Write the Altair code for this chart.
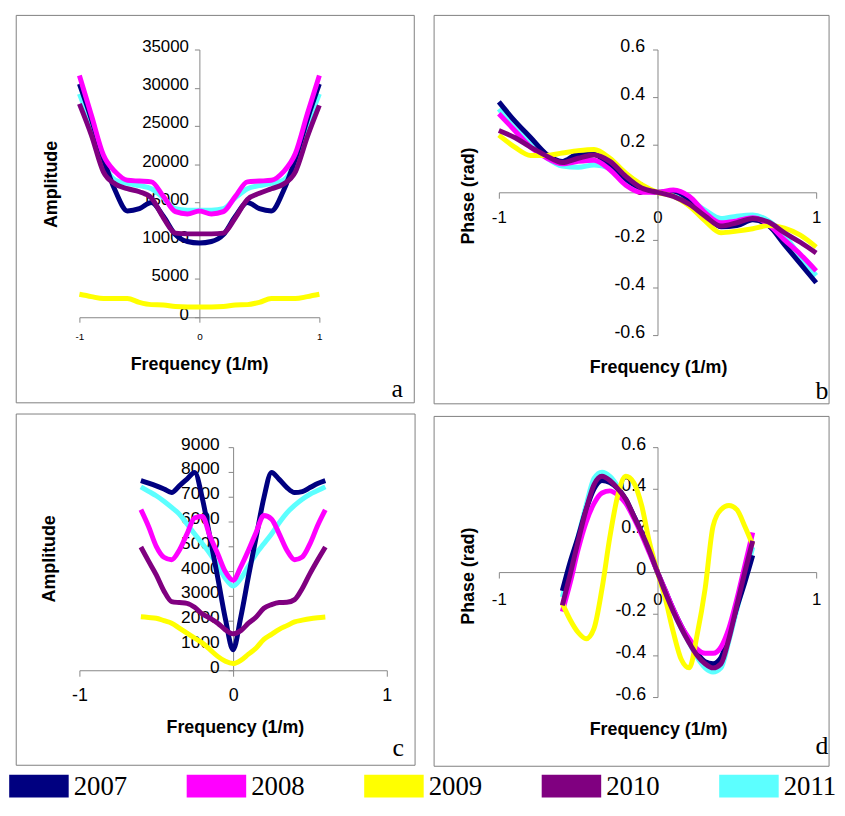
import altair as alt
import pandas as pd

YEARS = ["2007", "2008", "2009", "2010", "2011"]
COLORS = ["#000080", "#FF00FF", "#FFFF00", "#800080", "#5CFFFF"]
DRAW_ORDER = ["2011", "2007", "2008", "2009", "2010"]

# ---------- panel a : amplitude, wide band ----------
A_X = [-1.0, -0.9, -0.8, -0.7, -0.6, -0.5, -0.4, -0.3, -0.2, -0.1, 0.0,
       0.1, 0.2, 0.3, 0.4, 0.5, 0.6, 0.7, 0.8, 0.9, 1.0]
A_2007 = [30500, 25900, 20700, 16500, 13900, 14200, 15000, 13200, 10800, 9900, 9700,
          9900, 10800, 13200, 15000, 14200, 13900, 16500, 20700, 25900, 30500]
A_2008 = [31600, 26400, 21200, 19000, 17900, 17800, 17700, 15800, 13800, 13500, 13900,
          13500, 13800, 15800, 17700, 17800, 17900, 19000, 21400, 26600, 31600]
A_2009 = [3000, 2700, 2450, 2450, 2450, 1950, 1650, 1600, 1400, 1350, 1350,
          1350, 1400, 1600, 1650, 1950, 2450, 2450, 2450, 2700, 3000]
A_2010 = [27900, 23800, 19000, 17400, 16800, 16400, 15600, 13000, 11000, 10900, 10900,
          10900, 11000, 13000, 15400, 16200, 16800, 17400, 19000, 23600, 27700]
A_2011 = [29200, 25000, 20300, 17900, 17500, 17200, 16800, 15600, 14200, 14000, 14000,
          14000, 14200, 15600, 16800, 17200, 17500, 17900, 20300, 25000, 29200]

# ---------- panel b : phase, wide band ----------
B_X = [-1.0, -0.9, -0.8, -0.7, -0.6, -0.5, -0.4, -0.3, -0.2, -0.1, 0.0,
       0.1, 0.2, 0.3, 0.4, 0.5, 0.6, 0.7, 0.8, 0.9, 1.0]
B_2007 = [0.38, 0.30, 0.23, 0.16, 0.13, 0.16, 0.16, 0.11, 0.055, 0.015, 0.0,
          0.005, -0.03, -0.09, -0.145, -0.14, -0.115, -0.14, -0.22, -0.30, -0.38]
B_2008 = [0.33, 0.26, 0.19, 0.145, 0.12, 0.13, 0.135, 0.095, 0.03, 0.0, 0.0,
          0.01, -0.017, -0.085, -0.128, -0.12, -0.107, -0.135, -0.20, -0.26, -0.33]
B_2009 = [0.24, 0.19, 0.155, 0.155, 0.165, 0.175, 0.18, 0.143, 0.08, 0.032, 0.0,
          -0.017, -0.058, -0.12, -0.17, -0.163, -0.153, -0.14, -0.15, -0.18, -0.23]
B_2010 = [0.26, 0.23, 0.19, 0.153, 0.125, 0.143, 0.157, 0.13, 0.067, 0.018, 0.0,
          -0.017, -0.05, -0.10, -0.142, -0.128, -0.11, -0.125, -0.17, -0.21, -0.255]
B_2011 = [0.35, 0.27, 0.205, 0.145, 0.11, 0.105, 0.115, 0.10, 0.045, 0.012, 0.0,
          -0.01, -0.03, -0.075, -0.11, -0.10, -0.095, -0.12, -0.18, -0.27, -0.35]

# ---------- panel c : amplitude, narrow band ----------
C_X = [-0.6, -0.55, -0.5, -0.45, -0.4, -0.35, -0.3, -0.25, -0.2, -0.15, -0.1, -0.05, 0.0,
       0.05, 0.1, 0.15, 0.2, 0.25, 0.3, 0.35, 0.4, 0.45, 0.5, 0.55, 0.6]
C_2007 = [7650, 7550, 7440, 7310, 7170, 7440, 7710, 7980, 6930, 5340, 3740, 2070, 830,
          2140, 3790, 5370, 6950, 7980, 7700, 7370, 7170, 7210, 7370, 7530, 7650]
C_2008 = [6480, 5800, 5000, 4560, 4460, 4840, 5500, 6150, 6200, 5400, 4700, 3970, 3630,
          4170, 4840, 5570, 6240, 6100, 5500, 4840, 4460, 4570, 5100, 5840, 6470]
C_2009 = [2160, 2130, 2100, 2000, 1900, 1700, 1500, 1300, 1100, 830, 560, 360, 270,
          400, 650, 900, 1250, 1450, 1650, 1800, 1950, 2020, 2080, 2120, 2150]
C_2010 = [4970, 4400, 3850, 3200, 2770, 2730, 2700, 2540, 2270, 2100, 1900, 1630, 1470,
          1600, 1900, 2150, 2500, 2650, 2730, 2740, 2850, 3300, 3900, 4450, 4970]
C_2011 = [7400, 7220, 7040, 6820, 6570, 6300, 5900, 5500, 5100, 4700, 4230, 3700, 3400,
          3700, 4200, 4700, 5100, 5500, 5950, 6350, 6650, 6900, 7100, 7250, 7400]

# ---------- panel d : phase, narrow band ----------
D_X = [-0.6, -0.55, -0.5, -0.45, -0.4, -0.35, -0.3, -0.25, -0.2, -0.15, -0.1, -0.05, 0.0,
       0.05, 0.1, 0.15, 0.2, 0.25, 0.3, 0.35, 0.4, 0.45, 0.5, 0.55, 0.6]
D_2007 = [-0.09, 0.05, 0.17, 0.30, 0.40, 0.44, 0.43, 0.40, 0.35, 0.27, 0.19, 0.10, 0.0,
          -0.09, -0.18, -0.26, -0.33, -0.39, -0.43, -0.44, -0.41, -0.30, -0.17, -0.05, 0.08]
D_2008 = [-0.19, -0.05, 0.11, 0.24, 0.33, 0.38, 0.39, 0.37, 0.33, 0.26, 0.18, 0.09, 0.0,
          -0.09, -0.18, -0.26, -0.32, -0.37, -0.39, -0.39, -0.36, -0.27, -0.13, 0.03, 0.19]
D_2009 = [-0.15, -0.23, -0.29, -0.32, -0.27, -0.08, 0.17, 0.37, 0.46, 0.43, 0.32, 0.14, 0.0,
          -0.13, -0.29, -0.42, -0.46, -0.30, -0.08, 0.22, 0.30, 0.32, 0.30, 0.22, 0.13]
D_2010 = [-0.16, -0.01, 0.15, 0.30, 0.42, 0.46, 0.44, 0.40, 0.35, 0.27, 0.19, 0.10, 0.0,
          -0.10, -0.19, -0.27, -0.34, -0.40, -0.44, -0.46, -0.44, -0.32, -0.16, 0.0, 0.15]
D_2011 = [-0.12, 0.02, 0.17, 0.32, 0.45, 0.48, 0.46, 0.41, 0.34, 0.27, 0.19, 0.10, 0.0,
          -0.10, -0.19, -0.27, -0.34, -0.41, -0.46, -0.48, -0.46, -0.33, -0.18, -0.03, 0.12]

F_TICKS = [-1, 0, 1]
A_TICKS = [0, 5000, 10000, 15000, 20000, 25000, 30000, 35000]
C_TICKS = [0, 1000, 2000, 3000, 4000, 5000, 6000, 7000, 8000, 9000]
P_TICKS = [-0.6, -0.4, -0.2, 0.0, 0.2, 0.4, 0.6]

GRAY = "#878787"
FONT = "Liberation Sans"
SERIF = "Liberation Serif"

SCALE = alt.Scale(domain=YEARS, range=COLORS)
LEGEND = alt.Legend(
    title=None, orient="none", legendX=-55.8, legendY=728.3,
    direction="horizontal", columns=5, padding=0, symbolOffset=0,
    symbolType="M-2,-0.8H2V0.733H-2Z", symbolSize=900, symbolStrokeWidth=0, symbolOpacity=1,
    labelFont=SERIF, labelFontSize=27, labelColor="black", labelOffset=20,
    labelBaseline="middle", columnPadding=60, rowPadding=0,
)
COLOR_LINES = alt.Color("year:N", scale=SCALE, legend=None)
COLOR_KEY = alt.Color("year:N", scale=SCALE, legend=LEGEND)

X_EXPR = "(datum.value < 0 ? '-' : '') + format(abs(datum.value), 'd')"
P_EXPR = "datum.value == 0 ? '0' : (datum.value < 0 ? '-' : '') + format(abs(datum.value), '.1f')"


def x_axis(offset, size, tick, pad, tx, ty):
    return alt.Axis(
        orient="bottom", offset=offset, values=F_TICKS, grid=False,
        domainColor=GRAY, tickColor=GRAY, domainWidth=1, tickWidth=1, tickSize=tick,
        labelFont=FONT, labelFontSize=size, labelColor="black", labelPadding=pad,
        labelFlush=False, labelOverlap=False, labelExpr=X_EXPR,
        title="Frequency (1/m)", titleFont=FONT, titleFontSize=18, titleFontWeight="bold",
        titleColor="black", titleX=tx, titleY=ty, titleAlign="center",
        titleBaseline="middle", titleAngle=0)


def y_axis(offset, ticks, size, pad, title, tx, ty, expr):
    return alt.Axis(
        orient="left", offset=offset, values=ticks, grid=False,
        domainColor=GRAY, tickColor=GRAY, domainWidth=1, tickWidth=1, tickSize=5,
        labelFont=FONT, labelFontSize=size, labelColor="black", labelPadding=pad,
        labelOffset=-3, labelFlush=False, labelOverlap=False, labelExpr=expr,
        title=title, titleFont=FONT, titleFontSize=18, titleFontWeight="bold",
        titleColor="black", titleX=tx, titleY=ty, titleAlign="center",
        titleBaseline="middle", titleAngle=270)


def panel(xs, series, xdom, ydom, w, h, xax, yax, box, letter, with_key=False):
    one = pd.DataFrame({"k": [0]})
    layers = [
        alt.Chart(one).mark_rect(fill="transparent", stroke="#808080", strokeWidth=1).encode(
            x=alt.value(box[0]), x2=alt.value(box[1]), y=alt.value(box[2]), y2=alt.value(box[3]))
    ]
    if with_key:
        # invisible filled marks that carry the colour key (placed before the lines)
        key_df = pd.DataFrame({"year": YEARS})
        layers.append(
            alt.Chart(key_df).mark_square(filled=True, size=0, opacity=1)
            .encode(x=alt.value(0), y=alt.value(0), color=COLOR_KEY))
    xe = alt.X("f:Q", scale=alt.Scale(domain=xdom, nice=False, zero=False), axis=xax)
    ye = alt.Y("v:Q", scale=alt.Scale(domain=ydom, nice=False, zero=False), axis=yax)
    for yr in DRAW_ORDER:
        df = pd.DataFrame({"f": xs, "v": series[yr], "year": yr})
        layers.append(
            alt.Chart(df).mark_line(strokeWidth=5, interpolate="monotone", strokeJoin="round")
            .encode(x=xe, y=ye, color=COLOR_LINES))
    layers.append(
        alt.Chart(one).mark_text(text=letter[0], font=SERIF, fontSize=26, align="center",
                                 baseline="alphabetic", color="black")
        .encode(x=alt.value(letter[1]), y=alt.value(letter[2])))
    return alt.layer(*layers).properties(width=w, height=h)


pa = panel(A_X, {"2007": A_2007, "2008": A_2008, "2009": A_2009, "2010": A_2010, "2011": A_2011},
           [-1, 1], [0, 35000], 242, 270,
           x_axis(0, 10, 5, 9, 120.7, 47.3),
           y_axis(-121, A_TICKS, 17, 6, "Amplitude", -149.3, 135.6, "format(datum.value, 'd')"),
           (-63.7, 337.7, -34.4, 356.3), ("a", 320.5, 350.3), with_key=True)
pb = panel(B_X, {"2007": B_2007, "2008": B_2008, "2009": B_2009, "2010": B_2010, "2011": B_2011},
           [-1, 1], [-0.6, 0.6], 320, 288,
           x_axis(-144, 17, 6, 11.7, 160.5, 176.6),
           y_axis(-160, P_TICKS, 18, 8, "Phase (rad)", -190.3, 147.3, P_EXPR),
           (-65.3, 333, -34.4, 357.3), ("b", 325.8, 352.3))
pc = panel(C_X, {"2007": C_2007, "2008": C_2008, "2009": C_2009, "2010": C_2010, "2011": C_2011},
           [-1, 1], [0, 9000], 310, 225,
           x_axis(0, 18, 6, 10.6, 156.8, 58),
           y_axis(-155, C_TICKS, 17.5, 9, "Amplitude", -184.8, 112.1, "format(datum.value, 'd')"),
           (-63.7, 338.5, -33.4, 320.8), ("c", 321.5, 311.3))
pd_ = panel(D_X, {"2007": D_2007, "2008": D_2008, "2009": D_2009, "2010": D_2010, "2011": D_2011},
            [-1, 1], [-0.6, 0.6], 320, 252,
            x_axis(-126, 17, 6, 13.4, 160.5, 158.6),
            y_axis(-160, P_TICKS, 18, 7, "Phase (rad)", -190.3, 129.6, P_EXPR),
            (-65.3, 333, -31, 321.8), ("d", 325.7, 309))

chart = (
    alt.concat(pa, pb, pc, pd_, columns=2, spacing=113, bounds="flush")
    .resolve_scale(color="shared")
    .resolve_legend(color="shared")
    .properties(padding={"left": 7, "top": 2.5, "right": 0, "bottom": 0}, background="white")
    .configure_view(stroke="transparent")
)

chart.save("out.html", embed_options={"renderer": "svg", "actions": False})
